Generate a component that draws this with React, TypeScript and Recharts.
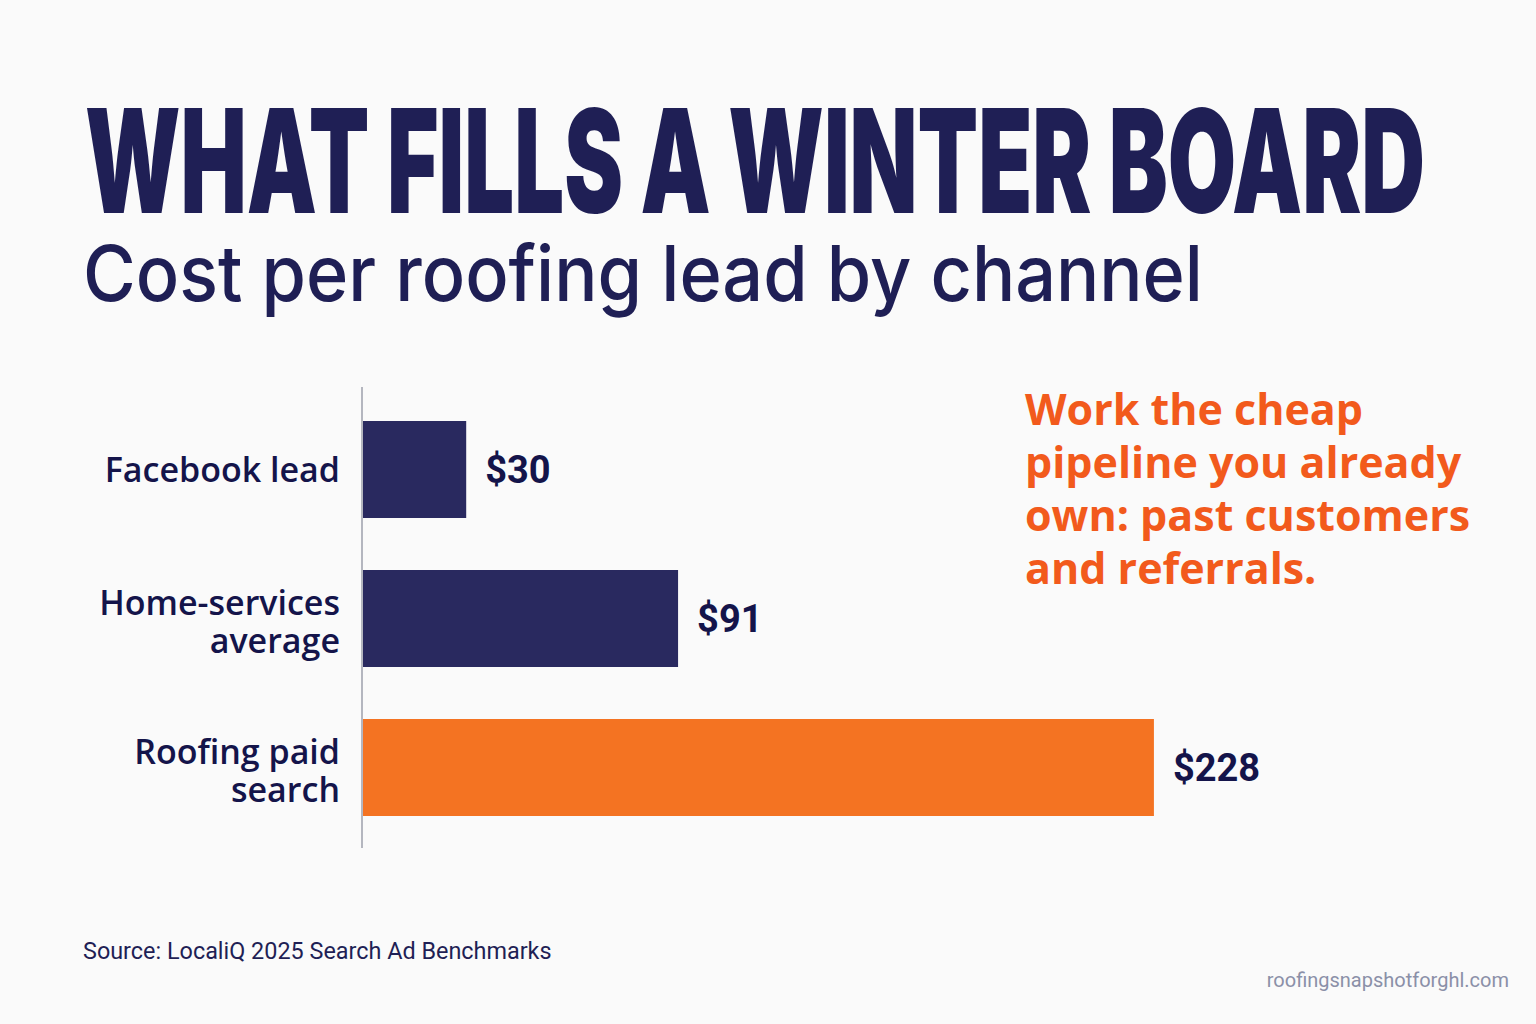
import React from 'react';
import { BarChart, Bar, XAxis, YAxis, Cell, LabelList } from 'recharts';

// ---- data ----
const channels = ['Facebook lead', 'Home-services\naverage', 'Roofing paid\nsearch'];
const costs = [30, 91, 228];
const barColors = ['#29295f', '#29295f', '#f47322'];
const noteLines = ['Work the cheap', 'pipeline you already', 'own: past customers', 'and referrals.'];

const NAVY = '#1f1f55';
const INK = '#14144a';
const ORANGE = '#f25a1c';

const data = channels.map((c, i) => ({ channel: c, cost: costs[i] }));

// category label, may wrap on "\n"
function ChannelTick(props: any) {
  const { x, y, payload } = props;
  const lines = String(payload.value).split('\n');
  const lh = 38;
  const first = y - ((lines.length - 1) * lh) / 2 + 12 + (lines.length > 1 ? 3 : 0);
  return (
    <text
      x={x}
      y={first}
      textAnchor="end"
      fill={INK}
      fontSize={34}
      fontWeight={600}
      fontFamily="'Open Sans', sans-serif"
    >
      {lines.map((l, i) => (
        <tspan key={i} x={x} y={first + i * lh}>
          {l}
        </tspan>
      ))}
    </text>
  );
}

function ValueLabel(props: any) {
  const { x, y, width, height, value } = props;
  return (
    <text
      x={x + width + 19}
      y={y + height / 2}
      dominantBaseline="central"
      fill={INK}
      fontSize={38}
      fontWeight={700}
      fontFamily="Roboto, sans-serif"
    >
      ${value}
    </text>
  );
}

export default function App() {
  return (
    <div
      style={{
        position: 'absolute',
        left: 0,
        top: 0,
        width: 1536,
        height: 1024,
        background: '#fafafa',
        overflow: 'hidden',
      }}
    >
      <div style={{ position: 'absolute', left: 0, top: 0 }}>
        <BarChart
          width={1536}
          height={1024}
          data={data}
          layout="vertical"
          margin={{ top: 387, right: 132, bottom: 176, left: 62 }}
        >
          <XAxis type="number" domain={[0, 300]} hide />
          <YAxis
            type="category"
            dataKey="channel"
            width={300}
            axisLine={{ stroke: '#b4b6bf', strokeWidth: 2 }}
            tickLine={false}
            tickSize={0}
            tickMargin={22}
            padding={{ top: 8, bottom: 6 }}
            tick={<ChannelTick />}
            interval={0}
          />
          <Bar dataKey="cost" barSize={97} isAnimationActive={false}>
            {data.map((d, i) => (
              <Cell key={d.channel} fill={barColors[i]} />
            ))}
            <LabelList dataKey="cost" content={<ValueLabel />} />
          </Bar>
        </BarChart>
      </div>

      <svg
        width={1536}
        height={1024}
        style={{ position: 'absolute', left: 0, top: 0, pointerEvents: 'none' }}
      >
        <text
          x={85}
          y={213}
          fontSize={144}
          fontWeight={900}
          fontFamily="Inter, sans-serif"
          fill={NAVY}
          textLength={1340}
          lengthAdjust="spacingAndGlyphs"
        >
          WHAT FILLS A WINTER BOARD
        </text>
        <text
          x={83}
          y={301}
          fontSize={77}
          fontWeight={500}
          fontFamily="Inter, sans-serif"
          fill={NAVY}
          textLength={1120}
          lengthAdjust="spacingAndGlyphs"
        >
          Cost per roofing lead by channel
        </text>

        <text x={1025} fontSize={43} fontWeight={700} fontFamily="'Open Sans', sans-serif" fill={ORANGE}>
          {noteLines.map((l, i) => (
            <tspan key={i} x={1025} y={425 + i * 53}>
              {l}
            </tspan>
          ))}
        </text>

        <text x={83} y={959} fontSize={23.4} fontFamily="Roboto, sans-serif" fill={NAVY}>
          Source: LocaliQ 2025 Search Ad Benchmarks
        </text>
        <text
          x={1509}
          y={987}
          textAnchor="end"
          fontSize={20}
          fontFamily="Roboto, sans-serif"
          fill="#8b90a8"
        >
          roofingsnapshotforghl.com
        </text>
      </svg>
    </div>
  );
}
